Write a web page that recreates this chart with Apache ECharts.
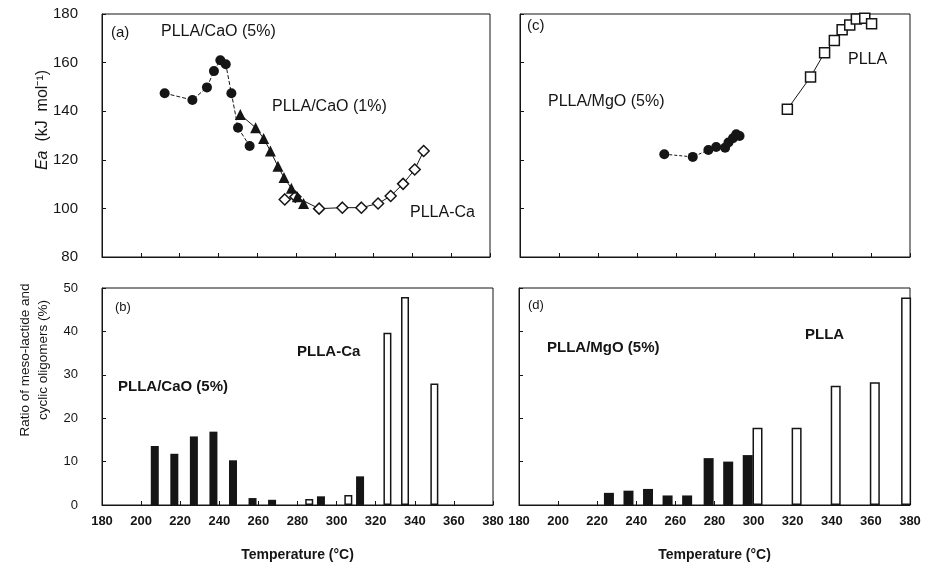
<!DOCTYPE html>
<html>
<head>
<meta charset="utf-8">
<script src="https://cdn.jsdelivr.net/npm/echarts@6/dist/echarts.min.js"></script>
<style>
	html, body { margin: 0; padding: 0; background: #fff; }
	#chart { width: 929px; height: 565px; }
</style>
</head>
<body>
<div id="chart"></div>
<script>
// Ea (kJ/mol) vs temperature (°C)
var caO5Ea = [[212.3, 147.4], [226.6, 144.6], [234.1, 149.8], [237.7, 156.5], [241.0, 161.0], [243.8, 159.3], [246.7, 147.4], [250.1, 133.2], [256.1, 125.7]];
var caO1Ea = [[251.3, 138.6], [259.2, 133.2], [263.3, 128.8], [266.8, 123.6], [270.7, 117.3], [273.8, 112.7], [277.6, 108.3], [280.7, 104.8], [283.9, 102.0]];
var pllaCaEa = [[274.2, 103.7], [279.7, 104.8], [291.9, 99.9], [303.9, 100.3], [313.7, 100.3], [322.3, 102.0], [328.8, 105.1], [335.2, 110.1], [341.2, 116.0], [345.8, 123.6]];
var mgO5Ea = [[254.0, 122.3], [268.6, 121.2], [276.6, 124.0], [280.6, 125.3], [285.2, 125.0], [286.9, 127.1], [289.2, 128.9], [290.9, 130.5], [292.6, 129.8]];
var pllaEa = [[317.1, 140.8], [329.0, 154.1], [336.2, 164.1], [341.2, 169.1], [345.2, 173.5], [349.1, 175.5], [352.5, 177.9], [356.8, 178.2], [360.3, 176.0]];

// ratio of meso-lactide and cyclic oligomers (%)
var caO5Ratio = [[207, 13.6], [217, 11.8], [227, 15.8], [237, 16.9], [247, 10.3], [257, 1.6], [267, 1.2], [292, 2.0], [312, 6.6]];
var pllaCaRatio = [[286, 1.4], [306, 2.3], [326, 39.7], [335, 47.9], [350, 28.0]];
var mgO5Ratio = [[226, 2.8], [236, 3.3], [246, 3.7], [256, 2.2], [266, 2.2], [277, 10.8], [287, 10.0], [297, 11.5]];
var pllaRatio = [[302, 17.8], [322, 17.8], [342, 27.5], [362, 28.3], [378, 47.8]];

var ink = "#151515";
var font = "'Liberation Sans', Arial, sans-serif";

function xAx(grid, labels) {
	return {
		type: "value", gridIndex: grid, min: 180, max: 380, interval: 20,
		axisLine: { lineStyle: { color: ink, width: 1 } },
		axisTick: { inside: true, length: 4, lineStyle: { color: ink } },
		splitLine: { show: false },
		axisLabel: { show: labels, color: ink, fontFamily: font, fontWeight: "bold", fontSize: 13, margin: 10 },
		name: labels ? "Temperature (°C)" : "",
		nameLocation: "middle", nameGap: 43,
		nameTextStyle: { color: ink, fontFamily: font, fontWeight: "bold", fontSize: 14 }
	};
}

function yAx(grid, min, max, step, labels, size) {
	return {
		type: "value", gridIndex: grid, min: min, max: max, interval: step,
		axisLine: { lineStyle: { color: ink, width: 1 } },
		axisTick: { inside: true, length: 4, lineStyle: { color: ink } },
		splitLine: { show: false },
		axisLabel: { show: labels, color: ink, fontFamily: font, fontSize: size, margin: 24 }
	};
}

function note(x, y, text, size, bold) {
	return {
		type: "text", x: x, y: y, z: 100,
		style: { text: text, fill: ink, font: (bold ? "bold " : "") + size + "px " + font, textVerticalAlign: "middle" }
	};
}

// 直立的軸名
function sideName(x, y, text, size, rich) {
	return {
		type: "text", x: x, y: y, rotation: Math.PI / 2, z: 100,
		style: {
			text: text, fill: ink, font: size + "px " + font,
			textAlign: "center", textVerticalAlign: "middle", lineHeight: 18,
			rich: rich || {}
		}
	};
}

var dot = { symbol: "circle", symbolSize: 10, itemStyle: { color: ink } };

var myChart = echarts.init(document.getElementById("chart"), null, { renderer: "canvas" });

var option = {
	backgroundColor: "#fff",
	animation: false,
	grid: [
		{ left: 102, top: 14, width: 388, height: 243, show: true, borderColor: ink, borderWidth: 1 },
		{ left: 520, top: 14, width: 390, height: 243, show: true, borderColor: ink, borderWidth: 1 },
		{ left: 102, top: 288, width: 391, height: 217, show: true, borderColor: ink, borderWidth: 1 },
		{ left: 519, top: 288, width: 391, height: 217, show: true, borderColor: ink, borderWidth: 1 }
	],
	xAxis: [xAx(0, false), xAx(1, false), xAx(2, true), xAx(3, true)],
	yAxis: [
		yAx(0, 80, 180, 20, true, 15),
		yAx(1, 80, 180, 20, false, 15),
		yAx(2, 0, 50, 10, true, 13),
		yAx(3, 0, 50, 10, false, 13)
	],
	series: [
		{
			name: "PLLA-Ca", type: "line", xAxisIndex: 0, yAxisIndex: 0, data: pllaCaEa,
			symbol: "diamond", symbolSize: 11, lineStyle: { color: ink, width: 1 },
			itemStyle: { color: "#fff", borderColor: ink, borderWidth: 1.5 }
		},
		{
			name: "PLLA/CaO (1%)", type: "line", xAxisIndex: 0, yAxisIndex: 0, data: caO1Ea,
			symbol: "triangle", symbolSize: 11, lineStyle: { color: ink, width: 1 },
			itemStyle: { color: ink }
		},
		{
			name: "PLLA/CaO (5%)", type: "line", xAxisIndex: 0, yAxisIndex: 0, data: caO5Ea,
			symbol: dot.symbol, symbolSize: dot.symbolSize, itemStyle: dot.itemStyle,
			lineStyle: { color: ink, width: 1, type: [4, 2] }
		},
		{
			name: "PLLA", type: "line", xAxisIndex: 1, yAxisIndex: 1, data: pllaEa,
			symbol: "rect", symbolSize: 10, lineStyle: { color: ink, width: 1 },
			itemStyle: { color: "#fff", borderColor: ink, borderWidth: 1.5 }
		},
		{
			name: "PLLA/MgO (5%)", type: "line", xAxisIndex: 1, yAxisIndex: 1, data: mgO5Ea,
			symbol: dot.symbol, symbolSize: dot.symbolSize, itemStyle: dot.itemStyle,
			lineStyle: { color: ink, width: 1, type: [3, 2] }
		},
		{
			name: "CaO 5% ratio", type: "bar", xAxisIndex: 2, yAxisIndex: 2, data: caO5Ratio,
			barWidth: 8, barGap: "-100%", itemStyle: { color: ink }
		},
		{
			name: "PLLA-Ca ratio", type: "bar", xAxisIndex: 2, yAxisIndex: 2, data: pllaCaRatio,
			barWidth: 8, barGap: "-100%", itemStyle: { color: "#fff", borderColor: ink, borderWidth: 1.5 }
		},
		{
			name: "MgO 5% ratio", type: "bar", xAxisIndex: 3, yAxisIndex: 3, data: mgO5Ratio,
			barWidth: 10, barGap: "-100%", itemStyle: { color: ink }
		},
		{
			name: "PLLA ratio", type: "bar", xAxisIndex: 3, yAxisIndex: 3, data: pllaRatio,
			barWidth: 10, barGap: "-100%", itemStyle: { color: "#fff", borderColor: ink, borderWidth: 1.5 }
		}
	],
	graphic: [
		sideName(43, 120, "{i|Ea}  (kJ  mol⁻¹)", 16, {
			i: { fontStyle: "italic", fontSize: 16, fontFamily: font, fill: ink }
		}),
		sideName(34, 360, "Ratio of meso-lactide and\ncyclic oligomers (%)", 13.5),
		note(111, 33, "(a)", 15, false),
		note(161, 32, "PLLA/CaO (5%)", 16, false),
		note(272, 107, "PLLA/CaO (1%)", 16, false),
		note(410, 213, "PLLA-Ca", 16, false),
		note(527, 26, "(c)", 15, false),
		note(548, 102, "PLLA/MgO (5%)", 16, false),
		note(848, 60, "PLLA", 16, false),
		note(115, 307, "(b)", 13, false),
		note(118, 387, "PLLA/CaO (5%)", 15, true),
		note(297, 352, "PLLA-Ca", 15, true),
		note(528, 305, "(d)", 13, false),
		note(547, 348, "PLLA/MgO (5%)", 15, true),
		note(805, 335, "PLLA", 15, true)
	]
};
myChart.setOption(option);
window.addEventListener("resize", myChart.resize);
</script>
</body>
</html>
